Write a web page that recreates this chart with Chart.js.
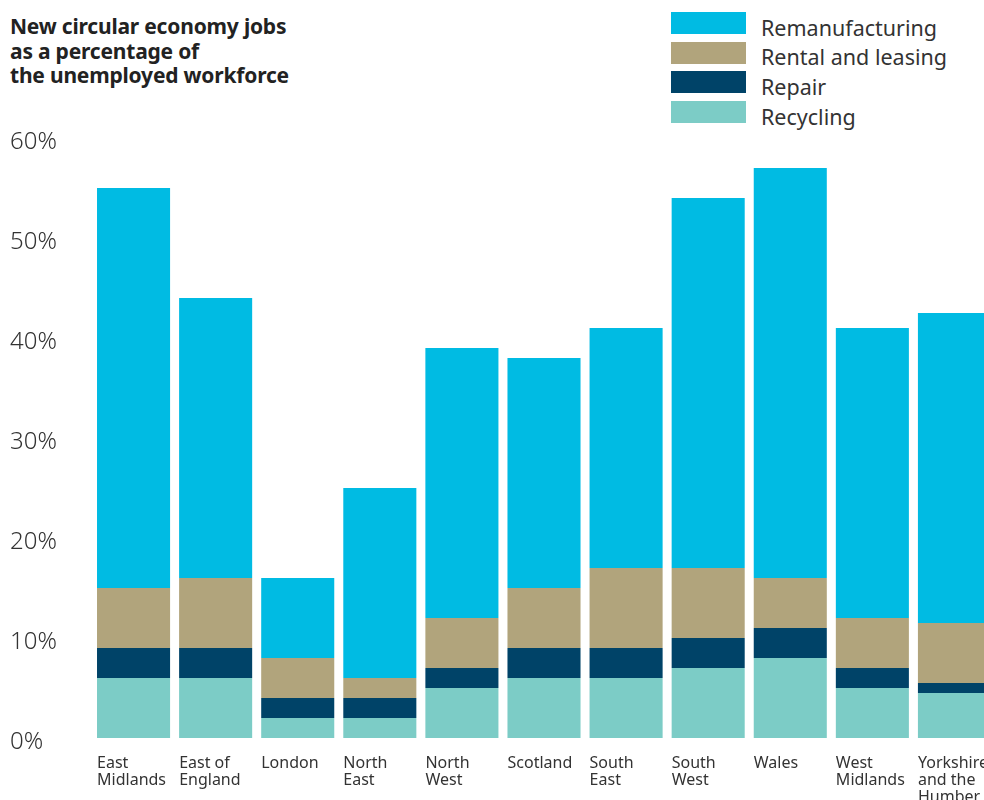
<!DOCTYPE html>
<html>
<head>
<meta charset="utf-8">
<script src="https://cdn.jsdelivr.net/npm/chart.js@4"></script>
<style>
    body { margin: 0; background: #fff; overflow: hidden; width: 984px; height: 800px; position: relative; font-family: "Noto Sans", sans-serif; color: #333; }
    #title { position: absolute; left: 10px; top: 14px; font-weight: bold; font-size: 21px; line-height: 24.5px; color: #222; letter-spacing: -0.2px; }
    #legend { position: absolute; left: 671px; top: 12px; }
    .item { height: 22px; margin-bottom: 7.7px; display: flex; align-items: center; }
    .box { width: 75px; height: 22px; margin-right: 15px; }
    .item span { font-size: 21.5px; color: #333; position: relative; top: 4px; }
    #chartCanvas { position: absolute; left: 0; top: 0; }
</style>
</head>
<body>
<div id="title">New circular economy jobs<br>as a percentage of<br>the unemployed workforce</div>
<div id="legend"></div>
<canvas id="chartCanvas" width="1000" height="800"></canvas>
<script>
var regions = [
    ['East', 'Midlands'], ['East of', 'England'], ['London'], ['North', 'East'], ['North', 'West'],
    ['Scotland'], ['South', 'East'], ['South', 'West'], ['Wales'], ['West', 'Midlands'], ['Yorkshire', 'and the', 'Humber']
];
var recycling = [6, 6, 2, 2, 5, 6, 6, 7, 8, 5, 4.5];
var repair = [3, 3, 2, 2, 2, 3, 3, 3, 3, 2, 1];
var rentalLeasing = [6, 7, 4, 2, 5, 6, 8, 7, 5, 5, 6];
var remanufacturing = [40, 28, 8, 19, 27, 23, 24, 37, 41, 29, 31];
var yTicks = [0, 10, 20, 30, 40, 50, 60];

var series = [
    { label: 'Recycling', data: recycling, color: '#7cccc6' },
    { label: 'Repair', data: repair, color: '#004368' },
    { label: 'Rental and leasing', data: rentalLeasing, color: '#b1a47c' },
    { label: 'Remanufacturing', data: remanufacturing, color: '#00bbe3' }
];

var legend = document.getElementById('legend');
series.slice().reverse().forEach(function (s) {
    var item = document.createElement('div');
    item.className = 'item';
    item.innerHTML = '<div class="box" style="background:' + s.color + '"></div><span>' + s.label + '</span>';
    legend.appendChild(item);
});

var ctx = document.getElementById('chartCanvas').getContext('2d');
new Chart(ctx, {
    type: 'bar',
    data: {
        labels: regions,
        datasets: series.map(function (s) {
            return { label: s.label, data: s.data, backgroundColor: s.color, borderWidth: 0 };
        })
    },
    options: {
        responsive: false,
        animation: false,
        layout: { padding: { left: 10, right: 4.5, top: 138, bottom: 0 } },
        plugins: { legend: { display: false }, tooltip: { enabled: false } },
        datasets: { bar: { categoryPercentage: 0.89, barPercentage: 1 } },
        scales: {
            x: {
                stacked: true,
                grid: { display: false },
                border: { display: false },
                afterFit: function (scale) {
                    scale.height = 62;
                    scale.paddingLeft = 0;
                    scale.paddingRight = 0;
                },
                ticks: {
                    align: 'start',
                    labelOffset: -36.5,
                    padding: 9,
                    maxRotation: 0,
                    autoSkip: false,
                    color: '#333',
                    font: { family: 'Noto Sans', size: 16, lineHeight: 1.07 }
                }
            },
            y: {
                stacked: true,
                min: 0,
                max: 60,
                grid: { display: false },
                border: { display: false },
                afterFit: function (scale) { scale.width = 82.5; },
                afterBuildTicks: function (scale) {
                    scale.ticks = yTicks.map(function (v) { return { value: v }; });
                },
                ticks: {
                    crossAlign: 'far',
                    labelOffset: 4,
                    color: '#333',
                    font: { family: 'Noto Sans', size: 24, weight: 300 },
                    callback: function (v) { return v + '%'; }
                }
            }
        }
    }
});
</script>
</body>
</html>
